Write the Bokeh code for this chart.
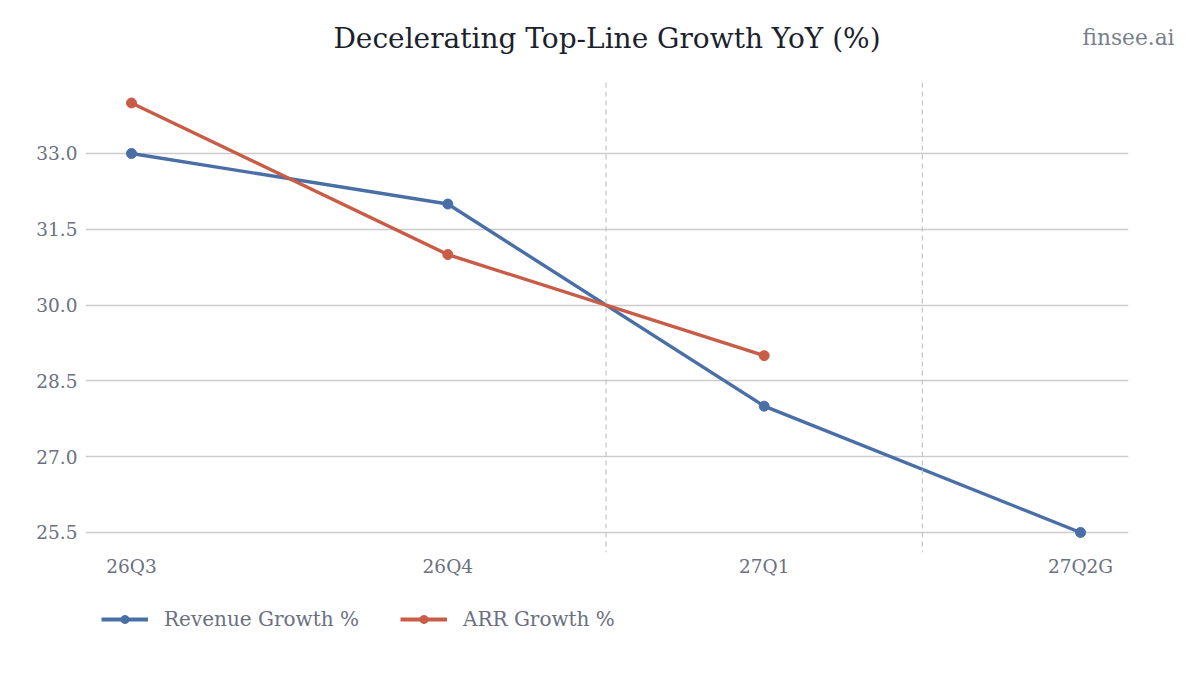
from bokeh.plotting import figure
from bokeh.models import (FixedTicker, Span, Legend, LegendItem, Range1d,
                          NumeralTickFormatter, LinearAxis)
from bokeh.layouts import column
from bokeh.embed import file_html
from bokeh.resources import INLINE

categories = ["26Q3", "26Q4", "27Q1", "27Q2G"]
revenue_growth = [33.0, 32.0, 28.0, 25.5]
arr_growth = [34.0, 31.0, 29.0]
y_ticks = [25.5, 27.0, 28.5, 30.0, 31.5, 33.0]
divider_positions = [1.5, 2.5]
title_text = "Decelerating Top-Line Growth YoY (%)"
brand_text = "finsee.ai"
series_names = ["Revenue Growth %", "ARR Growth %"]

FONT = "DejaVu Serif"
BLUE = "#4a6ea6"
RED = "#c85c46"
GRAY = "#6b7080"
LW = 3.4

X_RANGE = (-0.1454, 3.1517)
BRAND_AT = X_RANGE[1]
W = 1195

# main chart
p = figure(width=W, height=593, output_backend="svg", toolbar_location=None,
           x_range=Range1d(*X_RANGE), y_range=Range1d(25.104, 34.405),
           min_border_left=85, min_border_right=67, min_border_top=82, min_border_bottom=41)
p.outline_line_color = None

xs = list(range(len(categories)))
rl = p.line(xs, revenue_growth, line_color=BLUE, line_width=LW)
rs = p.scatter(xs, revenue_growth, size=10, fill_color=BLUE, line_color=BLUE)
al = p.line(xs[:len(arr_growth)], arr_growth, line_color=RED, line_width=LW)
as_ = p.scatter(xs[:len(arr_growth)], arr_growth, size=10, fill_color=RED, line_color=RED)

for xv in divider_positions:
    p.add_layout(Span(location=xv, dimension="height", line_color="#c4c4c4",
                      line_width=1.2, line_dash="5 4"))

p.xaxis.ticker = FixedTicker(ticks=xs)
p.xaxis.major_label_overrides = {i: c for i, c in enumerate(categories)}
p.yaxis.ticker = FixedTicker(ticks=y_ticks)
p.yaxis.formatter = NumeralTickFormatter(format="0.0")

for ax in (p.xaxis, p.yaxis):
    ax.axis_line_color = None
    ax.major_tick_line_color = None
    ax.minor_tick_line_color = None
    ax.major_tick_out = 0
    ax.major_tick_in = 0
    ax.minor_tick_out = 0
    ax.major_label_text_font = FONT
    ax.major_label_text_font_size = "18.5px"
    ax.major_label_text_color = GRAY
p.yaxis.major_label_standoff = 8
p.xaxis.major_label_standoff = 3

p.xgrid.grid_line_color = None
p.ygrid.grid_line_color = "#cccccc"
p.ygrid.grid_line_width = 1.3

# top axis carrying the title (axis label) and the brand (tick label)
top = LinearAxis(ticker=FixedTicker(ticks=[BRAND_AT]),
                 major_label_overrides={BRAND_AT: brand_text})
top.axis_line_color = None
top.major_tick_line_color = None
top.minor_tick_line_color = None
top.major_tick_out = 0
top.major_tick_in = 0
top.minor_tick_out = 0
top.major_label_text_font = FONT
top.major_label_text_font_size = "21.7px"
top.major_label_text_color = "#7a7f8c"
top.major_label_standoff = 33
top.axis_label = title_text
top.axis_label_text_font = FONT
top.axis_label_text_font_size = "28px"
top.axis_label_text_font_style = "normal"
top.axis_label_text_color = "#1c1f2e"
top.axis_label_standoff = -33
p.add_layout(top, "above")

# legend strip
lf = figure(width=W, height=77, output_backend="svg", toolbar_location=None,
            x_range=Range1d(*X_RANGE), y_range=Range1d(0, 1),
            min_border_left=85, min_border_right=67, min_border_top=0, min_border_bottom=0)
lf.axis.visible = False
lf.grid.visible = False
lf.outline_line_color = None
l1 = lf.line(xs, revenue_growth, line_color=BLUE, line_width=3.8)
s1 = lf.scatter(xs, revenue_growth, size=10, fill_color=BLUE, line_color=BLUE)
l2 = lf.line(xs[:len(arr_growth)], arr_growth, line_color=RED, line_width=3.8)
s2 = lf.scatter(xs[:len(arr_growth)], arr_growth, size=10, fill_color=RED, line_color=RED)

legend = Legend(items=[LegendItem(label=series_names[0], renderers=[l1, s1]),
                       LegendItem(label=series_names[1], renderers=[l2, s2])],
                orientation="horizontal", location=(16, 39))
legend.label_text_font = FONT
legend.label_text_font_size = "20px"
legend.label_text_color = GRAY
legend.glyph_width = 47
legend.label_standoff = 16
legend.spacing = 41
legend.border_line_color = None
legend.background_fill_alpha = 0
legend.margin = 0
legend.padding = 0
lf.add_layout(legend)

layout = column(p, lf, spacing=0)
open("out.html", "w").write(file_html(layout, INLINE))
